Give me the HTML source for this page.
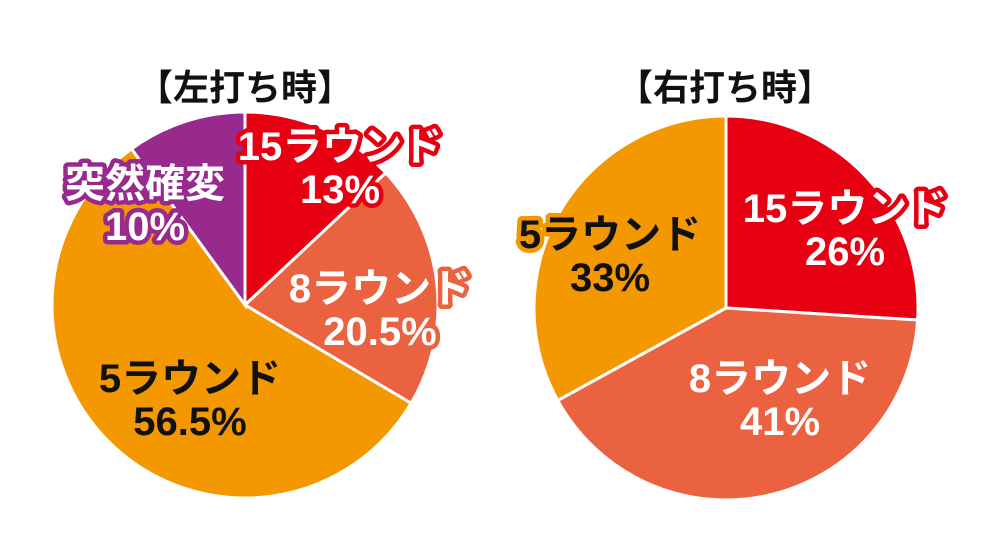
<!DOCTYPE html>
<html><head><meta charset="utf-8"><style>
html,body{margin:0;padding:0;background:#fff;width:1000px;height:545px;overflow:hidden}
svg text{font-family:"Liberation Sans","Noto Sans CJK JP",sans-serif;font-weight:bold;text-anchor:middle;paint-order:stroke;stroke-linejoin:round}
</style></head><body>
<svg id="chart" width="1000" height="545" viewBox="0 0 1000 545" xmlns="http://www.w3.org/2000/svg">
<text x="245" y="100" font-size="36" fill="#111">【左打ち時】</text>
<text x="725" y="100" font-size="36" fill="#111">【右打ち時】</text>
<g id="left"></g>
<g id="right"></g>
<g id="labels"></g>
</svg>
<script>
const leftCategories = ["15ラウンド","8ラウンド","5ラウンド","突然確変"];
const leftValues = [13, 20.5, 56.5, 10];
const rightCategories = ["15ラウンド","8ラウンド","5ラウンド"];
const rightValues = [26, 41, 33];
const leftColors = ["#e60012","#ea6240","#f39800","#982a8e"];
const rightColors = ["#e60012","#ea6240","#f39800"];
const NS="http://www.w3.org/2000/svg";
function pt(cx,cy,r,frac){const a=frac*2*Math.PI;return [cx+r*Math.sin(a),cy-r*Math.cos(a)];}
function drawPie(gid,cx,cy,r,vals,cols,prefix){
  const g=document.getElementById(gid);
  const total=vals.reduce((a,b)=>a+b,0);
  let acc=0;
  vals.forEach((v,i)=>{
    const s=acc/total, e=(acc+v)/total; acc+=v;
    const [x1,y1]=pt(cx,cy,r,s),[x2,y2]=pt(cx,cy,r,e);
    const p=document.createElementNS(NS,"path");
    p.setAttribute("d",`M${cx},${cy}L${x1},${y1}A${r},${r} 0 ${e-s>0.5?1:0} 1 ${x2},${y2}Z`);
    p.setAttribute("fill",cols[i]);p.setAttribute("stroke","#fff");p.setAttribute("stroke-width","3");
    
    
    g.appendChild(p);
  });
}
drawPie("left",245,305,193,leftValues,leftColors,"left");
drawPie("right",726,308,192,rightValues,rightColors,"right");
const L=document.getElementById("labels");
function label(x,y,name,val,fill,stroke,nm){
  [[name,y],[val+"%",y+43]].forEach((t,k)=>{
    const el=document.createElementNS(NS,"text");
    el.setAttribute("x",x);el.setAttribute("y",t[1]);el.setAttribute("font-size","40");
    el.setAttribute("fill",fill);el.setAttribute("stroke",stroke);el.setAttribute("stroke-width","9");
    el.textContent=t[0];
    
    
    L.appendChild(el);
  });
}
label(340,160,leftCategories[0],leftValues[0],"#fff","#e60012","left-15r");
label(380,302,leftCategories[1],leftValues[1],"#fff","#ea6240","left-8r");
label(190,392,leftCategories[2],leftValues[2],"#111","#f39800","left-5r");
label(145,197,leftCategories[3],leftValues[3],"#fff","#982a8e","left-kakuhen");
label(845,222,rightCategories[0],rightValues[0],"#fff","#e60012","right-15r");
label(780,392,rightCategories[1],rightValues[1],"#fff","#ea6240","right-8r");
label(610,248,rightCategories[2],rightValues[2],"#111","#f39800","right-5r");
</script>
</body></html>
